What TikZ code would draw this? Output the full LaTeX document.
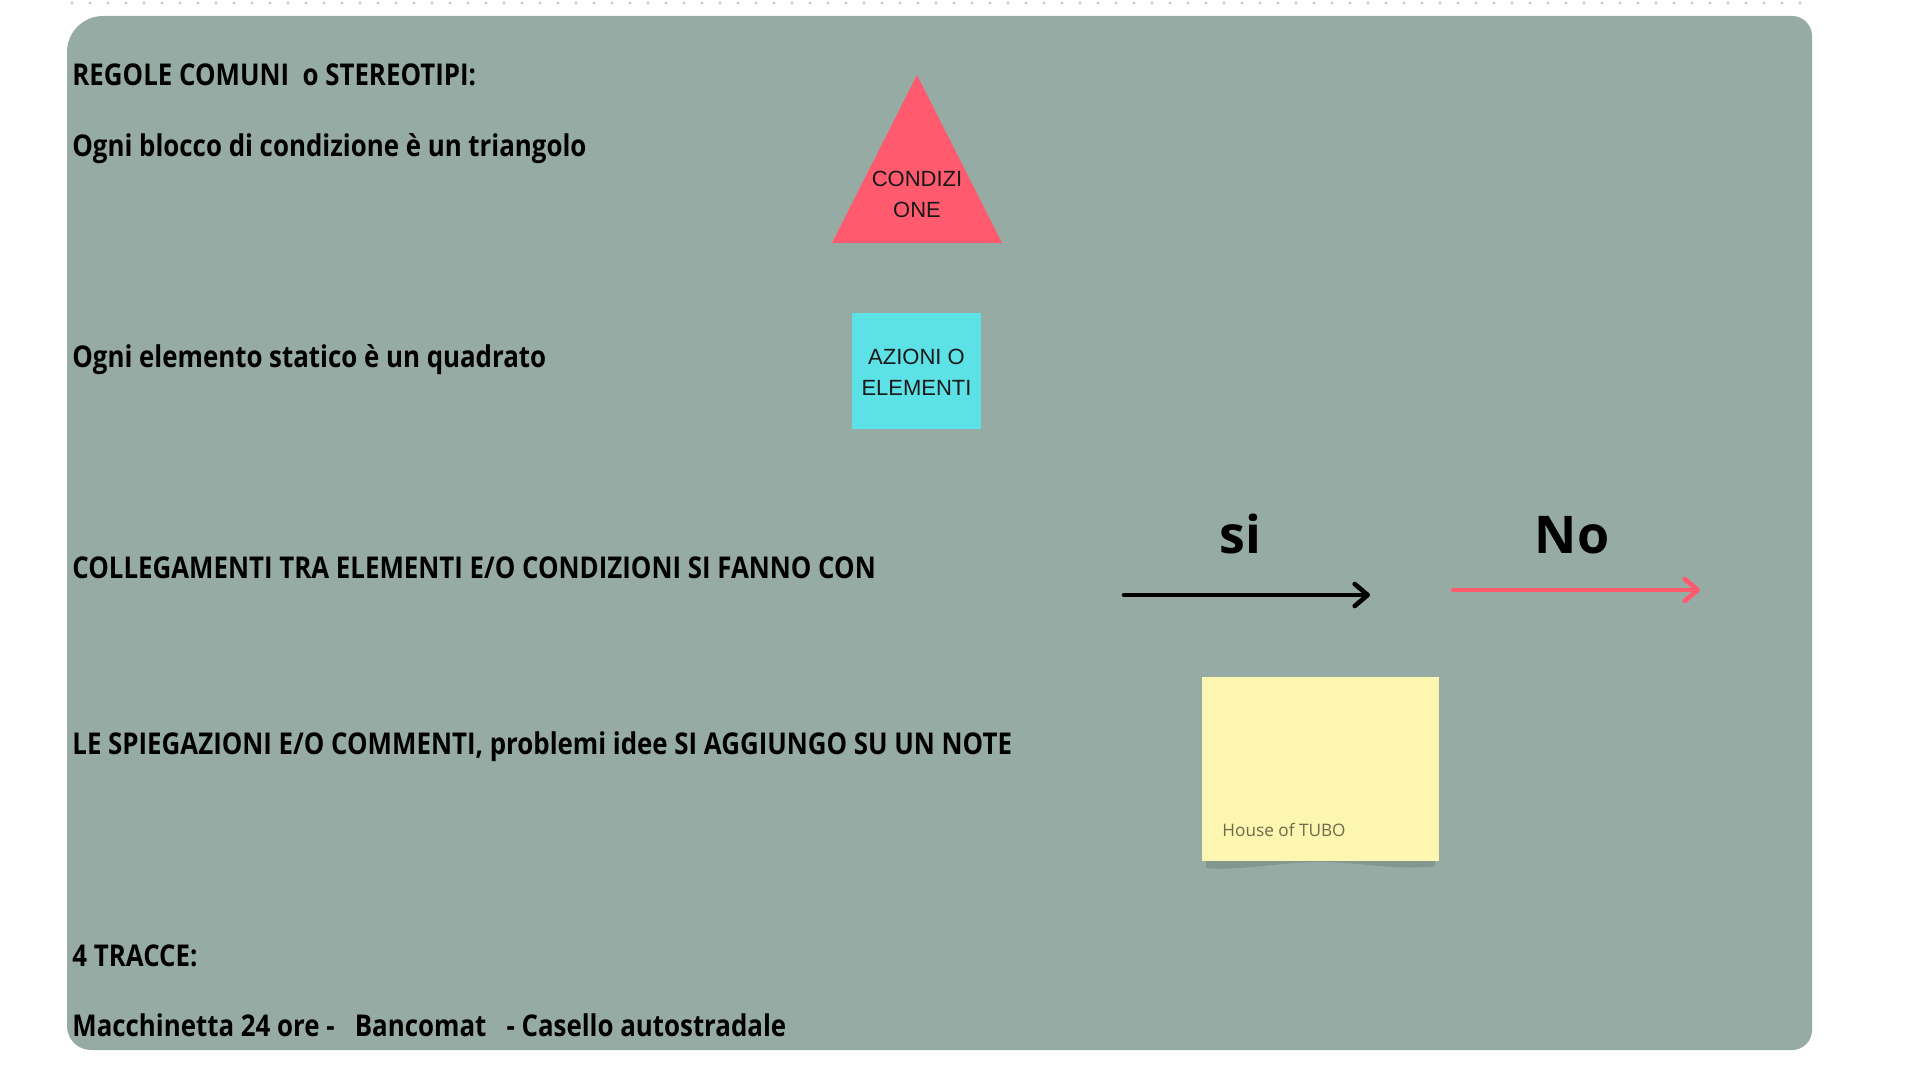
\documentclass[tikz,border=0pt]{standalone}
\usepackage{fontspec}
\setmainfont{Open Sans}
\newfontfamily\condb{Open Sans}[FakeStretch=0.862]
\newfontfamily\arialf{Liberation Sans}
\usetikzlibrary{arrows.meta}
\definecolor{panelc}{HTML}{97ABA5}
\definecolor{redc}{HTML}{FF5A6E}
\definecolor{cyanc}{HTML}{5CE1E6}
\definecolor{notec}{HTML}{FCF6B1}
\definecolor{notetext}{HTML}{6E6B4B}
\definecolor{shadowc}{HTML}{83978F}
\begin{document}
\begin{tikzpicture}[x=0.5pt,y=-0.5pt,
  rule/.style={anchor=base west, inner sep=0pt, font=\condb\bfseries\fontsize{15}{18}\selectfont, text=black},
  shapetext/.style={align=center, inner sep=0pt, font=\arialf\fontsize{11}{15.5}\selectfont, text=black!90},
  bigword/.style={anchor=base, inner sep=0pt, font=\bfseries\fontsize{26}{30}\selectfont, text=black},
  linkarrow/.style={line width=2.3pt, line cap=round, -{Straight Barb[length=6.5pt,width=11pt,line cap=round,line join=round]}}
]
\useasboundingbox (0,0) rectangle (1920,1080);
\fill[white] (0,0) rectangle (1920,1080);
% dotted edge at the top
\draw[line width=1.6pt, line cap=round, draw=black!22, dash pattern=on 0pt off 9pt] (72,3) -- (1810,3);
% panel
\fill[panelc] (67,500) [rounded corners=18pt] -- (67,16) [rounded corners=10pt] -- (1812,16) -- (1812,1050) [rounded corners=12pt] -- (67,1050) -- cycle;

% texts
\node[rule] (t1) at (72,86) {REGOLE COMUNI \ o STEREOTIPI:};
\node[rule] (t2) at (72,157) {Ogni blocco di condizione è un triangolo};
\node[rule] (t3) at (72,367) {Ogni elemento statico è un quadrato};
\node[rule] (t4) at (72,578) {COLLEGAMENTI TRA ELEMENTI E/O CONDIZIONI SI FANNO CON};
\node[rule] (t5) at (72,754) {LE SPIEGAZIONI E/O COMMENTI, problemi idee SI AGGIUNGO SU UN NOTE};
\node[rule] (t6) at (72,966) {4 TRACCE:};
\node[rule] (t7) at (72,1036) {Macchinetta 24 ore - \ \ Bancomat \ \ - Casello autostradale};

% triangle (condition)
\fill[redc] (917,75) -- (1002,243) -- (832,243) -- cycle;
\node[shapetext] (cond) at (917,194) {CONDIZI\\ONE};

% square (action / element)
\node[fill=cyanc, minimum width=64.5pt, minimum height=58pt, inner sep=0pt] (box) at (916.5,371) {};
\node[shapetext] (boxt) at (916.5,372) {AZIONI O\\ELEMENTI};

% arrows
\node[bigword] (si) at (1240,553) {si};
\node[bigword] (no) at (1572,553) {No};
\coordinate (s1) at (1124,595);
\coordinate (s2) at (1370,595);
\coordinate (n1) at (1453,590);
\coordinate (n2) at (1700,590);
\draw[linkarrow, draw=black] (s1) -- (s2);
\draw[linkarrow, draw=redc] (n1) -- (n2);

% sticky note
\fill[shadowc] (1206,855) -- (1435,855) -- (1435,866) .. controls (1400,871) and (1360,862) .. (1320,862) .. controls (1280,862) and (1240,871) .. (1206,868) -- cycle;
\node[fill=notec, minimum width=118.5pt, minimum height=92pt, inner sep=0pt] (note) at (1320.5,769) {};
\node[anchor=base west, inner sep=0pt, font=\fontsize{8.6}{10}\selectfont, text=notetext] (notet) at (1222,836) {House of TUBO};
\end{tikzpicture}
\end{document}
